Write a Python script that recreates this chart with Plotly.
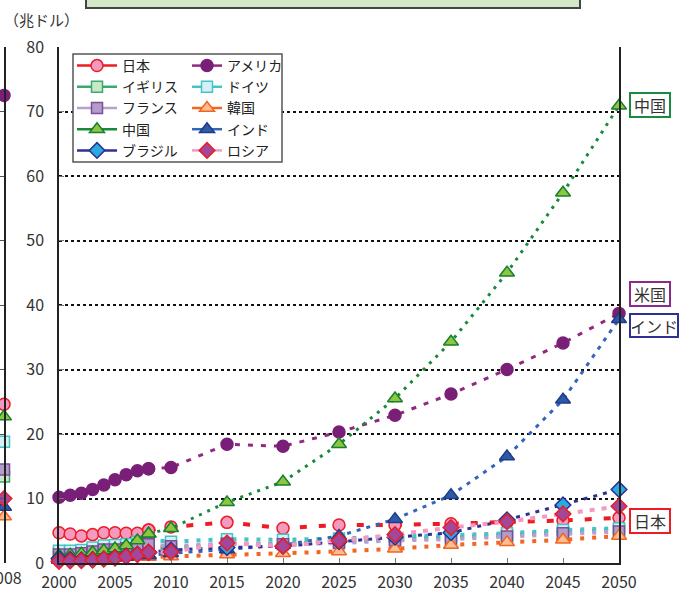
import plotly.graph_objects as go

# ---------------- data ----------------
hist_years = [2000, 2001, 2002, 2003, 2004, 2005, 2006, 2007, 2008]
proj_years = [2010, 2015, 2020, 2025, 2030, 2035, 2040, 2045, 2050]
x_ticks = [2000, 2005, 2010, 2015, 2020, 2025, 2030, 2035, 2040, 2045, 2050]
y_ticks = [0, 10, 20, 30, 40, 50, 60, 70, 80]

countries = ["日本", "アメリカ", "イギリス", "ドイツ", "フランス", "韓国", "中国", "インド", "ブラジル", "ロシア"]

japan_hist = [4.7, 4.5, 4.2, 4.4, 4.7, 4.7, 4.6, 4.6, 5.1]
japan_proj = [5.6, 6.3, 5.4, 5.9, 5.9, 6.1, 6.3, 6.6, 7.0]
usa_hist = [10.2, 10.5, 10.8, 11.4, 12.1, 12.9, 13.7, 14.3, 14.6]
usa_proj = [14.8, 18.4, 18.1, 20.3, 22.9, 26.2, 30.0, 34.1, 38.7]
uk_hist = [1.5, 1.5, 1.6, 1.9, 2.2, 2.3, 2.4, 2.8, 2.7]
uk_proj = [2.3, 3.0, 3.0, 3.3, 3.7, 4.0, 4.3, 4.8, 5.2]
germany_hist = [1.9, 1.9, 2.0, 2.4, 2.7, 2.8, 2.9, 3.3, 3.6]
germany_proj = [3.3, 3.7, 3.6, 3.8, 4.1, 4.3, 4.6, 5.1, 5.4]
france_hist = [1.3, 1.3, 1.5, 1.8, 2.1, 2.1, 2.3, 2.6, 2.9]
france_proj = [2.6, 3.0, 2.9, 3.1, 3.5, 3.7, 4.1, 4.6, 4.9]
korea_hist = [0.53, 0.5, 0.58, 0.64, 0.72, 0.84, 0.95, 1.05, 0.93]
korea_proj = [1.0, 1.3, 1.5, 1.8, 2.2, 2.8, 3.2, 3.6, 4.2]
china_hist = [1.2, 1.3, 1.45, 1.64, 1.93, 2.26, 2.71, 3.49, 4.52]
china_proj = [5.4, 9.4, 12.6, 18.4, 25.5, 34.3, 45.0, 57.4, 70.9]
india_hist = [0.46, 0.48, 0.51, 0.6, 0.7, 0.81, 0.92, 1.2, 1.2]
india_proj = [1.5, 2.1, 2.8, 4.2, 6.8, 10.5, 16.5, 25.3, 37.8]
brazil_hist = [0.64, 0.55, 0.5, 0.55, 0.66, 0.88, 1.09, 1.37, 1.65]
brazil_proj = [2.0, 2.4, 2.6, 3.3, 4.0, 4.7, 6.7, 9.0, 11.4]
russia_hist = [0.26, 0.31, 0.35, 0.43, 0.59, 0.76, 0.99, 1.3, 1.66]
russia_proj = [1.7, 3.1, 2.6, 3.5, 4.4, 5.5, 6.4, 7.6, 8.8]

# values of the neighbouring (cut-off) chart at 2008
left_year = [2008]
left_values = [24.6, 72.5, 13.4, 18.8, 14.5, 7.2, 22.7, 8.7, None, 10.0]

hist_values = [japan_hist, usa_hist, uk_hist, germany_hist, france_hist,
               korea_hist, china_hist, india_hist, brazil_hist, russia_hist]
proj_values = [japan_proj, usa_proj, uk_proj, germany_proj, france_proj,
               korea_proj, china_proj, india_proj, brazil_proj, russia_proj]

# ---------------- styles ----------------
styles = [
    dict(line="#ed1c24", fill="#f49ac1", edge="#ed1c24", symbol="circle", size=12, dash="7px,12px", w=4),
    dict(line="#93287f", fill="#7a1f77", edge="#7a1f77", symbol="circle", size=12, dash="5px,8px", w=3),
    dict(line="#3aaa6e", fill="#c9e8c6", edge="#3aaa6e", symbol="square", size=11, dash="4px,8px", w=4),
    dict(line="#45c3c7", fill="#d6f1f4", edge="#45c3c7", symbol="square", size=11, dash="4px,8px", w=4),
    dict(line="#b89fd0", fill="#b39cc9", edge="#7b4d9a", symbol="square", size=11, dash="4px,8px", w=4),
    dict(line="#f26522", fill="#fbbf8f", edge="#f26522", symbol="triangle-up", size=13, dash="4px,8px", w=4),
    dict(line="#16893a", fill="#8dc63f", edge="#1a7f2e", symbol="triangle-up", size=13, dash="3px,6px", w=3),
    dict(line="#3366b8", fill="#2e5ba8", edge="#1f3a8a", symbol="triangle-up", size=13, dash="4px,6px", w=3),
    dict(line="#2e3192", fill="#29abe2", edge="#2e3192", symbol="diamond", size=12, dash="4px,6px", w=3),
    dict(line="#f49ac1", fill="#a3479b", edge="#ed1c24", symbol="diamond", size=12, dash="5px,7px", w=4),
]

W, H = 686, 596
ML, MR, MT, MB = 0, 0, 47, 33
PH = H - MT - MB


def px_x(x):
    return x / W


def px_y(y):
    return 1 - (y - MT) / PH


FONT = "Noto Sans CJK JP"

fig = go.Figure()

for i, name in enumerate(countries):
    s = styles[i]
    marker = dict(symbol=s["symbol"], size=s["size"], color=s["fill"],
                  line=dict(color=s["edge"], width=1.5))
    legend_id = "legend" if i % 2 == 0 else "legend2"
    # projection (dashed), starting from last actual year
    fig.add_trace(go.Scatter(
        x=[hist_years[-1]] + proj_years,
        y=[hist_values[i][-1]] + proj_values[i],
        mode="lines+markers",
        line=dict(color=s["line"], width=s["w"], dash=s["dash"]),
        marker=marker, showlegend=False, hoverinfo="skip", cliponaxis=False,
    ))
    # historic (solid)
    fig.add_trace(go.Scatter(
        x=hist_years, y=hist_values[i], name=name,
        mode="lines+markers",
        line=dict(color=s["line"], width=2.5),
        marker=marker, legend=legend_id, cliponaxis=False,
    ))
    # neighbouring chart sliver
    if left_values[i] is not None:
        fig.add_trace(go.Scatter(
            x=left_year, y=[left_values[i]], mode="markers",
            marker=marker, xaxis="x2", yaxis="y2",
            showlegend=False, cliponaxis=False,
        ))

tickfont = dict(family=FONT, size=16, color="#333")

fig.update_layout(
    width=W, height=H,
    margin=dict(l=ML, r=MR, t=MT, b=MB),
    paper_bgcolor="white", plot_bgcolor="white",
    font=dict(family=FONT, size=14, color="#222"),
    xaxis=dict(domain=[px_x(59), px_x(619)], range=[2000, 2050],
               tickvals=x_ticks, ticks="inside", ticklen=5, tickcolor="#777",
               showline=True, linecolor="#222", linewidth=1.5,
               showgrid=False, zeroline=False, tickfont=tickfont,
               ticklabelstandoff=4, automargin=False, anchor="y"),
    yaxis=dict(range=[0, 80], tickvals=y_ticks, ticks="inside", ticklen=5,
               tickcolor="#777", showline=True, mirror=True, linecolor="#222",
               linewidth=1.5, showgrid=True, gridcolor="#111", gridwidth=2,
               griddash="3px,3px", zeroline=False, tickfont=tickfont,
               ticklabelstandoff=10, automargin=False, anchor="x"),
    xaxis2=dict(domain=[0, px_x(4)], range=[2000, 2008], tickvals=left_year,
                ticktext=["2008"], ticks="", showline=False, showgrid=False,
                zeroline=False, tickfont=tickfont, ticklabelstandoff=4,
                ticklabeloverflow="allow", automargin=False, anchor="y2"),
    yaxis2=dict(range=[0, 80], tickvals=y_ticks, side="right", anchor="x2",
                showline=True, linecolor="#222", linewidth=1.5, ticks="inside",
                ticklen=4, tickcolor="#555", showticklabels=False,
                showgrid=False, zeroline=False, automargin=False),
    legend=dict(x=px_x(72), y=px_y(50), xanchor="left", yanchor="top",
                bgcolor="rgba(0,0,0,0)", borderwidth=0, itemwidth=40,
                tracegroupgap=0, font=dict(family=FONT, size=14, color="#222")),
    legend2=dict(x=px_x(187), y=px_y(50), xanchor="left", yanchor="top",
                 bgcolor="rgba(0,0,0,0)", borderwidth=0, itemwidth=30,
                 tracegroupgap=0, font=dict(family=FONT, size=14, color="#222")),
)

# legend frame (white box)
fig.add_shape(type="rect", xref="paper", yref="paper",
              x0=px_x(73), x1=px_x(282), y0=px_y(162), y1=px_y(54),
              line=dict(color="#555", width=1.5), fillcolor="white", layer="above")
# title box fragment on top
fig.add_shape(type="rect", xref="paper", yref="paper",
              x0=px_x(86), x1=px_x(580), y0=px_y(8), y1=px_y(-20),
              line=dict(color="#444", width=2), fillcolor="#d3e8c6", layer="above")

fig.add_annotation(xref="paper", yref="paper", x=px_x(2), y=px_y(20),
                   xanchor="left", yanchor="middle", showarrow=False,
                   text="（兆ドル）", font=dict(family=FONT, size=15, color="#333"))

label_specs = [
    ("中国", 650, 105, 36, 20, "#1a8a40"),
    ("米国", 650, 294, 36, 20, "#8b2a8a"),
    ("インド", 654, 325.5, 44, 19, "#2e3192"),
    ("日本", 650, 520.5, 36, 20, "#ed1c24"),
]
for text, cx, cy, bw, bh, col in label_specs:
    fig.add_annotation(xref="paper", yref="paper", x=px_x(cx), y=px_y(cy),
                       xanchor="center", yanchor="middle", showarrow=False,
                       text=text, bgcolor="white", bordercolor=col, borderwidth=2,
                       borderpad=1, width=bw, height=bh,
                       font=dict(family=FONT, size=16, color="#333"))

fig.write_html("out.html", config={"displayModeBar": False},
               post_script="document.body.style.margin='0';")
